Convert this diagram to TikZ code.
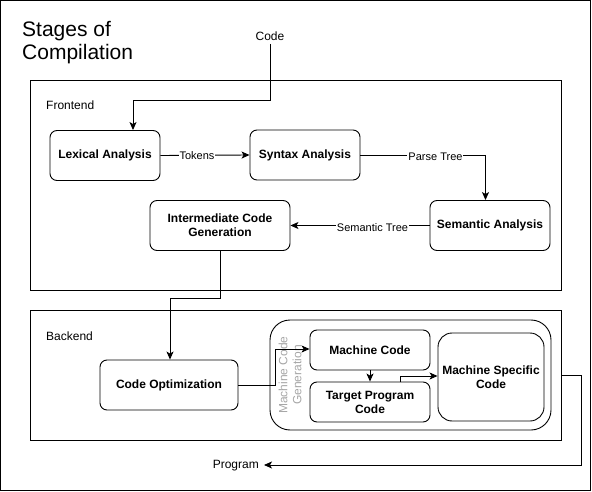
\documentclass[tikz,border=0pt]{standalone}
\usepackage{fontspec}
\setmainfont{Liberation Sans}
\usetikzlibrary{arrows.meta,calc}
\tikzset{
  box/.style={draw, rounded corners=7pt, line width=0.9pt, align=center, font=\fontsize{12}{14}\selectfont\bfseries, inner sep=0pt},
  region/.style={draw, line width=0.9pt},
  conn/.style={line width=0.9pt, -{Stealth[length=8pt,width=7pt,inset=2pt]}},
  plain/.style={line width=0.9pt},
  lbl/.style={fill=white, inner sep=1pt, font=\fontsize{11}{13}\selectfont},
}
\begin{document}
\begin{tikzpicture}[x=1pt,y=-1pt]
\useasboundingbox (0,0) rectangle (592,492);
\draw[line width=0.9pt] (0.5,0.5) rectangle (590.5,490.5);
% title
\node[anchor=north west, align=left, font=\fontsize{21}{23}\selectfont, inner sep=0pt] (title) at (22,21) {Stages of\\Compilation};
\node[font=\fontsize{12}{14}\selectfont] (code) at (270,36) {Code};
% regions
\draw[region] (30,80) rectangle (561,290);
\node[anchor=west, font=\fontsize{12}{14}\selectfont, inner sep=0pt] (fe) at (46,105) {Frontend};
\draw[region] (30,310) rectangle (561,440);
\coordinate (beR) at (561,375);
\node[anchor=west, font=\fontsize{12}{14}\selectfont, inner sep=0pt] (be) at (46,336) {Backend};
% frontend nodes
\node[box, minimum width=110pt, minimum height=50pt] (lex) at (105,155.5) {Lexical Analysis};
\node[box, minimum width=110pt, minimum height=50pt] (syn) at (305,155) {Syntax Analysis};
\node[box, minimum width=120pt, minimum height=50pt] (sem) at (490,225.5) {Semantic Analysis};
\node[box, minimum width=140pt, minimum height=50pt] (icg) at (220,225.5) {Intermediate Code\\Generation};
% backend nodes
\node[box, minimum width=138pt, minimum height=50pt] (opt) at (169,385) {Code Optimization};
\node[draw, rounded corners=20pt, line width=0.9pt, minimum width=281pt, minimum height=110pt] (mcg) at (410.5,375) {};
\node[rotate=90, align=center, text=gray!70, font=\fontsize{12}{14}\selectfont, inner sep=0pt] (mcglbl) at (290,375) {Machine Code\\Generation};
\node[box, minimum width=120pt, minimum height=40pt] (mc) at (370,350) {Machine Code};
\node[box, minimum width=120pt, minimum height=40pt] (tpc) at (370,402) {Target Program\\Code};
\node[box, rounded corners=14pt, minimum width=106pt, minimum height=88pt] (msc) at (491,377) {Machine Specific\\Code};
\node[font=\fontsize{12}{14}\selectfont, anchor=east, inner sep=0pt] (prog) at (259,466) {Program};
% connectors
\coordinate (c1) at (270,100);
\coordinate (c2) at (133,100);
\draw[conn] (code.south) -- (c1) -- (c2) -- (c2 |- lex.north);
\draw[conn] (lex.east) -- node[lbl, pos=0.41] {Tokens} (syn.west);
\coordinate (p1) at (485.5,155);
\draw[plain] (syn.east) -- node[lbl, pos=0.6, yshift=-2pt] {Parse Tree} (p1);
\draw[conn] (p1) -- (p1 |- sem.north);
\draw[conn] (sem.west) -- node[lbl, pos=0.41, yshift=-2pt] {Semantic Tree} (icg.east);
\coordinate (i1) at (220,298);
\coordinate (i2) at (170,298);
\draw[conn] (icg.south) -- (i1) -- (i2) -- (i2 |- opt.north);
\coordinate (o1) at (275,385);
\coordinate (o2) at (275,349);
\draw[conn] (opt.east) -- (o1) -- (o2) -- (o2 -| mc.west);
\draw[conn] (mc.south) -- (tpc.north);
\coordinate (t0) at (400,382);
\coordinate (t1) at (400,376);
\draw[conn] (t0) -- (t1) -- (t1 -| msc.west);
\coordinate (r1) at (581,375);
\coordinate (r2) at (581,465);
\draw[conn] (beR) -- (r1) -- (r2) -- ($(prog.east)+(5,-1)$);
\end{tikzpicture}
\end{document}
